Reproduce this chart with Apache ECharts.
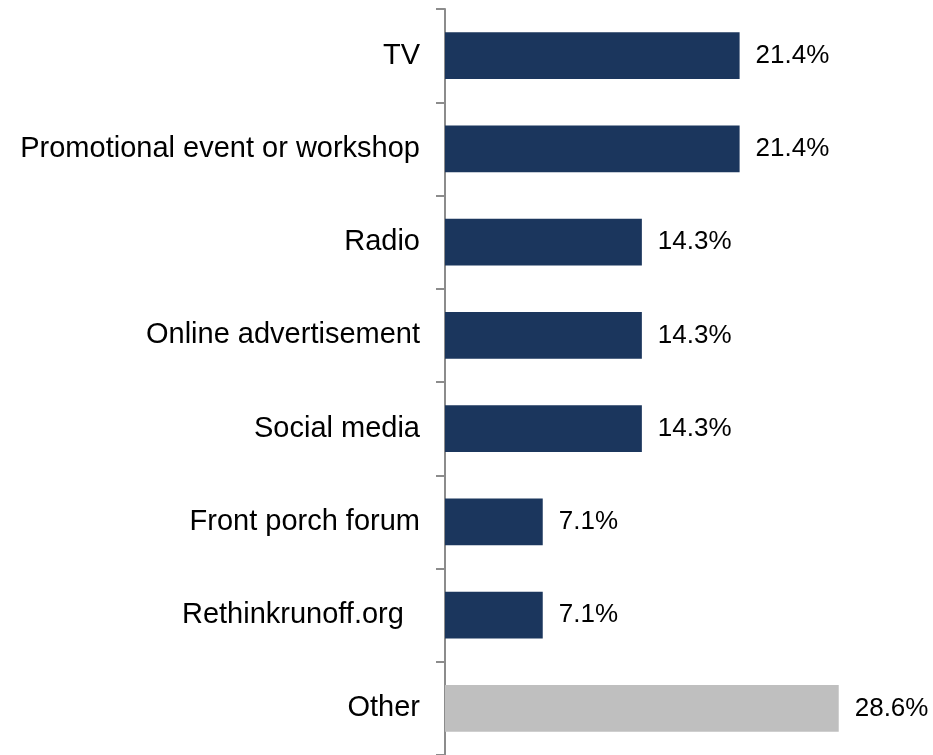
<!DOCTYPE html>
<html><head><meta charset="utf-8">
<script src="https://cdn.jsdelivr.net/npm/echarts@6/dist/echarts.min.js"></script>
<style>html,body{margin:0;padding:0;background:#fff}#c{width:933px;height:755px}</style>
</head><body><div id="c"></div>
<script>
const categories = ["TV", "Promotional event or workshop", "Radio", "Online advertisement", "Social media", "Front porch forum", "Rethinkrunoff.org  ", "Other"];
const values = [21.4, 21.4, 14.3, 14.3, 14.3, 7.1, 7.1, 28.6];
const barColors = ["#1B365D", "#1B365D", "#1B365D", "#1B365D", "#1B365D", "#1B365D", "#1B365D", "#BFBFBF"];

const chart = echarts.init(document.getElementById('c'));
chart.setOption({
  animation: false,
  grid: { left: 445, top: 9, height: 747, right: 75 },
  xAxis: { type: 'value', min: 0, max: 30, show: false },
  yAxis: {
    type: 'category', data: categories, inverse: true,
    axisLine: { show: true, lineStyle: { color: '#8C8C8C', width: 2 } },
    axisTick: { show: true, alignWithLabel: false, length: 9, interval: (i) => i < categories.length, lineStyle: { color: '#8C8C8C', width: 2 } },
    axisLabel: { fontFamily: 'Liberation Sans, Arial', fontSize: 29, color: '#000', margin: 25, padding: [4, 0, 0, 0] }
  },
  series: [{
    type: 'bar', barCategoryGap: '50%',
    data: values.map((v, i) => ({ value: v, itemStyle: { color: barColors[i] } })),
    label: { show: true, position: 'right', distance: 16, fontFamily: 'Liberation Sans, Arial', fontSize: 26, color: '#000', padding: [4, 0, 0, 0], formatter: p => p.value.toFixed(1) + '%' }
  }]
});
</script></body></html>
